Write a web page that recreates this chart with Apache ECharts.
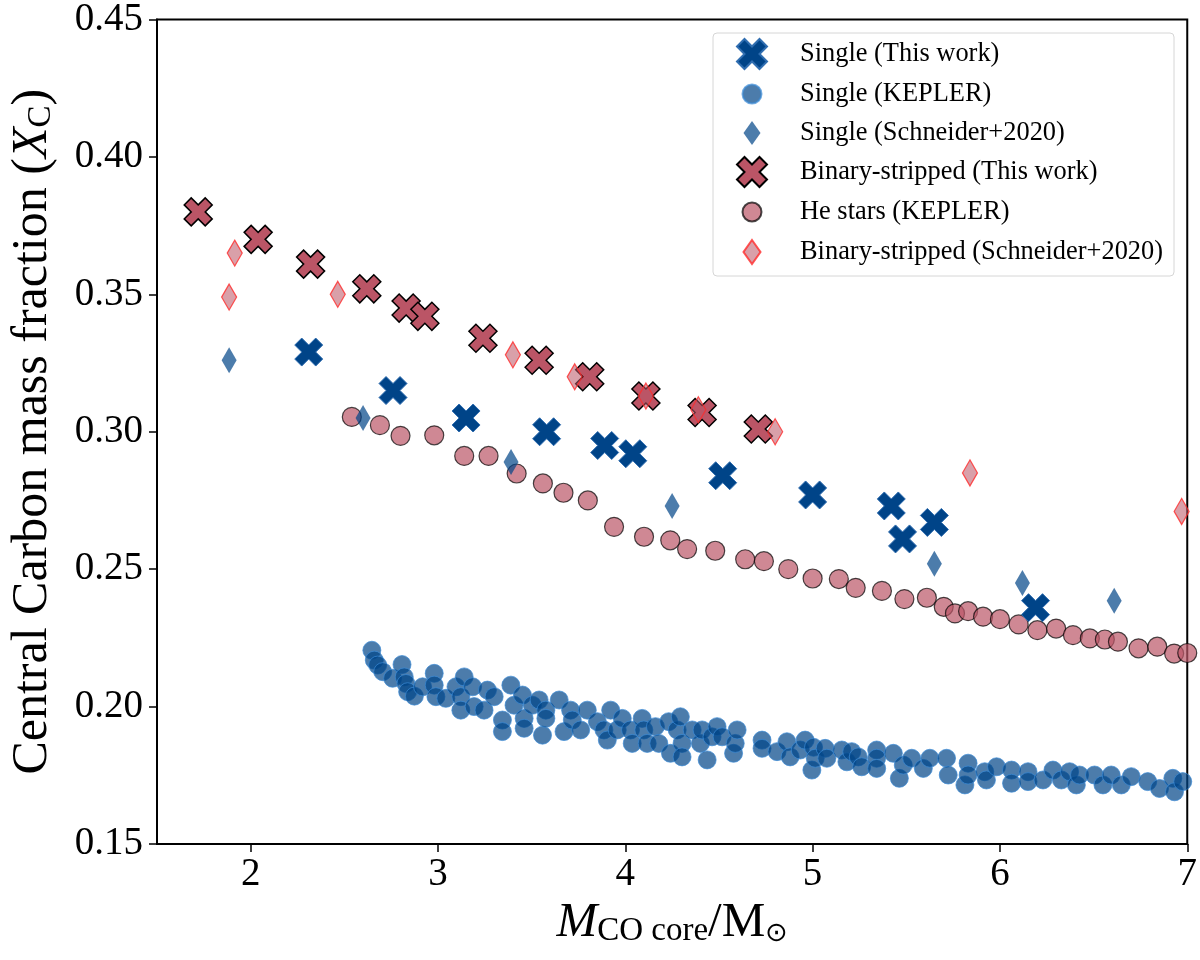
<!DOCTYPE html>
<html>
<head>
<meta charset="utf-8">
<script src="https://cdn.jsdelivr.net/npm/echarts@6/dist/echarts.min.js"></script>
<style>html,body{margin:0;padding:0;background:#fff}#c{width:1200px;height:960px}</style>
</head>
<body>
<div id="c"></div>
<script>
// ---- data ----
const xTicks = [2, 3, 4, 5, 6, 7];
const yTicks = [0.15, 0.20, 0.25, 0.30, 0.35, 0.40, 0.45];

const singleThisWork = [[2.31,0.329],[2.76,0.315],[3.15,0.305],[3.58,0.300],[3.89,0.295],[4.04,0.292],[4.52,0.284],[5.00,0.277],[5.42,0.273],[5.48,0.261],[5.65,0.267],[6.19,0.236]];

const singleKepler = [
[2.647,0.2205],[2.660,0.2169],[2.678,0.2151],[2.705,0.2127],[2.758,0.2103],[2.808,0.2153],[2.820,0.2108],[2.829,0.2084],[2.838,0.2054],[2.874,0.2038],
[2.918,0.2072],[2.980,0.2121],[2.980,0.2078],[2.989,0.2036],[3.042,0.2030],[3.096,0.2072],[3.122,0.2036],[3.122,0.1987],[3.140,0.2108],[3.185,0.2072],
[3.193,0.2000],[3.246,0.1987],[3.264,0.2060],[3.300,0.2036],[3.344,0.1951],[3.344,0.1909],[3.389,0.2078],[3.406,0.2005],[3.451,0.2042],[3.460,0.1957],
[3.460,0.1921],[3.504,0.2005],[3.540,0.2024],[3.558,0.1896],[3.576,0.1987],[3.576,0.1957],[3.647,0.2024],[3.673,0.1909],[3.708,0.1987],[3.717,0.1951],
[3.762,0.1915],[3.797,0.1987],[3.851,0.1945],[3.886,0.1915],[3.904,0.1878],[3.922,0.1987],[3.957,0.1915],[3.984,0.1957],[4.028,0.1915],[4.037,0.1866],
[4.090,0.1957],[4.099,0.1915],[4.117,0.1866],[4.161,0.1927],[4.179,0.1866],[4.232,0.1945],[4.241,0.1830],[4.277,0.1915],[4.294,0.1963],[4.303,0.1866],
[4.303,0.1817],[4.357,0.1915],[4.401,0.1866],[4.410,0.1915],[4.437,0.1806],[4.463,0.1890],[4.490,0.1927],[4.517,0.1890],[4.578,0.1830],[4.587,0.1866],
[4.597,0.1915],[4.730,0.1878],[4.730,0.1848],[4.810,0.1836],[4.863,0.1872],[4.880,0.1817],[4.934,0.1842],[4.960,0.1878],[4.996,0.1769],[5.005,0.1852],
[5.014,0.1812],[5.067,0.1848],[5.076,0.1812],[5.156,0.1842],[5.183,0.1799],[5.209,0.1836],[5.244,0.1817],[5.262,0.1781],[5.342,0.1842],[5.342,0.1812],
[5.342,0.1775],[5.431,0.1830],[5.463,0.1739],[5.484,0.1787],[5.529,0.1812],[5.591,0.1775],[5.626,0.1812],[5.715,0.1812],[5.724,0.1751],[5.813,0.1715],
[5.830,0.1794],[5.830,0.1751],[5.919,0.1763],[5.928,0.1733],[5.982,0.1781],[6.062,0.1769],[6.062,0.1721],[6.150,0.1763],[6.150,0.1727],[6.230,0.1733],
[6.283,0.1769],[6.328,0.1733],[6.372,0.1763],[6.408,0.1715],[6.425,0.1751],[6.505,0.1751],[6.550,0.1715],[6.594,0.1751],[6.648,0.1715],[6.701,0.1745],
[6.789,0.1727],[6.852,0.1702],[6.923,0.1739],[6.932,0.1690],[6.976,0.1727]
];

const singleSchneider = [[1.885,0.326],[2.60,0.305],[3.39,0.289],[4.25,0.273],[5.65,0.252],[6.12,0.245],[6.61,0.2385]];

const binaryThisWork = [[1.72,0.380],[2.04,0.370],[2.32,0.361],[2.62,0.352],[2.83,0.345],[2.93,0.342],[3.24,0.334],[3.54,0.326],[3.81,0.320],[4.11,0.313],[4.41,0.307],[4.71,0.301]];

const heStarsKepler = [
[2.54,0.3054],[2.69,0.3024],[2.80,0.2985],[2.98,0.2987],[3.14,0.2912],[3.27,0.2912],[3.42,0.2848],[3.56,0.2812],[3.67,0.2778],[3.80,0.2750],
[3.94,0.2654],[4.10,0.2618],[4.24,0.2605],[4.33,0.2573],[4.48,0.2567],[4.64,0.2536],[4.74,0.2529],[4.87,0.2500],[5.00,0.2466],[5.14,0.2464],
[5.23,0.2432],[5.37,0.2421],[5.49,0.2391],[5.61,0.2396],[5.70,0.2363],[5.76,0.2339],[5.83,0.2347],[5.91,0.2327],[6.00,0.2318],[6.10,0.2299],
[6.20,0.2278],[6.30,0.2284],[6.39,0.2260],[6.48,0.2248],[6.56,0.2244],[6.63,0.2236],[6.74,0.2212],[6.84,0.2218],[6.93,0.2193],[7.00,0.2195]
];

const binarySchneider = [[1.885,0.349],[1.915,0.365],[2.465,0.350],[3.40,0.328],[3.73,0.320],[4.11,0.313],[4.39,0.308],[4.80,0.300],[5.84,0.285],[6.97,0.271]];

const seriesNames = ['Single (This work)','Single (KEPLER)','Single (Schneider+2020)','Binary-stripped (This work)','He stars (KEPLER)','Binary-stripped (Schneider+2020)'];

// ---- styling ----
const FONT = 'Liberation Serif';
const BLUE = '#004488';
const RED = '#BB5566';
const XPATH = 'path://M0 75 L25 100 L50 75 L75 100 L100 75 L75 50 L100 25 L75 0 L50 25 L25 0 L0 25 L25 50 Z';
const LEG_X = 'path://M0 0M60 30M2 22.5L9.5 30L17 22.5L24.5 30L32 22.5L24.5 15L32 7.5L24.5 0L17 7.5L9.5 0L2 7.5L9.5 15Z';
const LEG_C = 'path://M0 0M60 30M7.5 15A9.5 9.5 0 1 0 26.5 15A9.5 9.5 0 1 0 7.5 15Z';
const LEG_D = 'path://M0 0M60 30M17 3L25.5 15L17 27L8.5 15Z';

const chart = echarts.init(document.getElementById('c'), null, {renderer: 'canvas'});
chart.setOption({
  animation: false,
  backgroundColor: '#fff',
  grid: {left: 155.5, right: 12, top: 19, bottom: 116, show: true, borderColor: '#000', borderWidth: 2, backgroundColor: 'transparent'},
  legend: {
    orient: 'vertical', left: 713, top: 33,
    padding: [5, 11, 8, 21], itemGap: 8, itemWidth: 60, itemHeight: 30,
    backgroundColor: '#fff', borderColor: '#d6d6d6', borderWidth: 1, borderRadius: 4,
    textStyle: {fontFamily: FONT, fontSize: 26.4, color: '#000'},
    data: [
      {name: seriesNames[0], icon: LEG_X},
      {name: seriesNames[1], icon: LEG_C},
      {name: seriesNames[2], icon: LEG_D},
      {name: seriesNames[3], icon: LEG_X},
      {name: seriesNames[4], icon: LEG_C},
      {name: seriesNames[5], icon: LEG_D}
    ],
    selectedMode: false
  },
  xAxis: {
    type: 'value', min: 1.5, max: 7,
    name: '{i|M}{s|CO core}{n|/M}{o|⊙}',
    nameLocation: 'middle', nameGap: 40,
    nameTextStyle: {
      fontFamily: FONT, color: '#000',
      rich: {
        i: {fontFamily: FONT, fontStyle: 'italic', fontSize: 49, lineHeight: 48, verticalAlign: 'bottom', color: '#000'},
        n: {fontFamily: FONT, fontSize: 49, lineHeight: 48, verticalAlign: 'bottom', color: '#000'},
        s: {fontFamily: FONT, fontSize: 33, lineHeight: 22, verticalAlign: 'bottom', color: '#000'},
        o: {fontFamily: 'DejaVu Sans', fontSize: 27, lineHeight: 20, verticalAlign: 'bottom', color: '#000'}
      }
    },
    axisLine: {show: true, onZero: false, lineStyle: {color: '#000', width: 2}},
    axisTick: {show: true, inside: false, length: 8, lineStyle: {color: '#000', width: 1.5}, customValues: xTicks},
    axisLabel: {show: true, margin: 11, fontFamily: FONT, fontSize: 39, color: '#000', customValues: xTicks, formatter: v => String(v)},
    splitLine: {show: false}
  },
  yAxis: {
    type: 'value', min: 0.15, max: 0.45,
    name: '{n|Central Carbon mass fraction (}{i|X}{s|C}{n|)}',
    nameLocation: 'middle', nameGap: 99,
    nameTextStyle: {
      fontFamily: FONT, color: '#000',
      rich: {
        i: {fontFamily: FONT, fontStyle: 'italic', fontSize: 50, lineHeight: 46, verticalAlign: 'bottom', color: '#000'},
        n: {fontFamily: FONT, fontSize: 50, lineHeight: 46, verticalAlign: 'bottom', color: '#000'},
        s: {fontFamily: FONT, fontSize: 33, lineHeight: 20, verticalAlign: 'bottom', color: '#000'}
      }
    },
    axisLine: {show: true, onZero: false, lineStyle: {color: '#000', width: 2}},
    axisTick: {show: true, inside: false, length: 8, lineStyle: {color: '#000', width: 1.5}, customValues: yTicks},
    axisLabel: {show: true, margin: 14, fontFamily: FONT, fontSize: 39, color: '#000', customValues: yTicks, formatter: v => Number(v).toFixed(2)},
    splitLine: {show: false}
  },
  series: [
    {
      name: seriesNames[0], type: 'scatter', data: singleThisWork, z: 4,
      symbol: XPATH, symbolSize: 28,
      itemStyle: {color: BLUE, borderColor: '#2f6db0', borderWidth: 1, opacity: 1}
    },
    {
      name: seriesNames[1], type: 'scatter', data: singleKepler, z: 2,
      symbol: 'circle', symbolSize: 18,
      itemStyle: {color: BLUE, borderColor: '#3b8ad6', borderWidth: 1, opacity: 0.7}
    },
    {
      name: seriesNames[2], type: 'scatter', data: singleSchneider, z: 3,
      symbol: 'diamond', symbolSize: [15, 26],
      itemStyle: {color: BLUE, opacity: 0.7}
    },
    {
      name: seriesNames[3], type: 'scatter', data: binaryThisWork, z: 4,
      symbol: XPATH, symbolSize: 28,
      itemStyle: {color: RED, borderColor: '#000', borderWidth: 1.5, opacity: 1}
    },
    {
      name: seriesNames[4], type: 'scatter', data: heStarsKepler, z: 2,
      symbol: 'circle', symbolSize: 19,
      itemStyle: {color: RED, borderColor: '#000', borderWidth: 1.2, opacity: 0.7}
    },
    {
      name: seriesNames[5], type: 'scatter', data: binarySchneider, z: 5,
      symbol: 'diamond', symbolSize: [15, 26],
      itemStyle: {color: 'rgba(187,85,102,0.7)', borderColor: '#ff2b2b', borderWidth: 1.3}
    }
  ]
});
</script>
</body>
</html>
